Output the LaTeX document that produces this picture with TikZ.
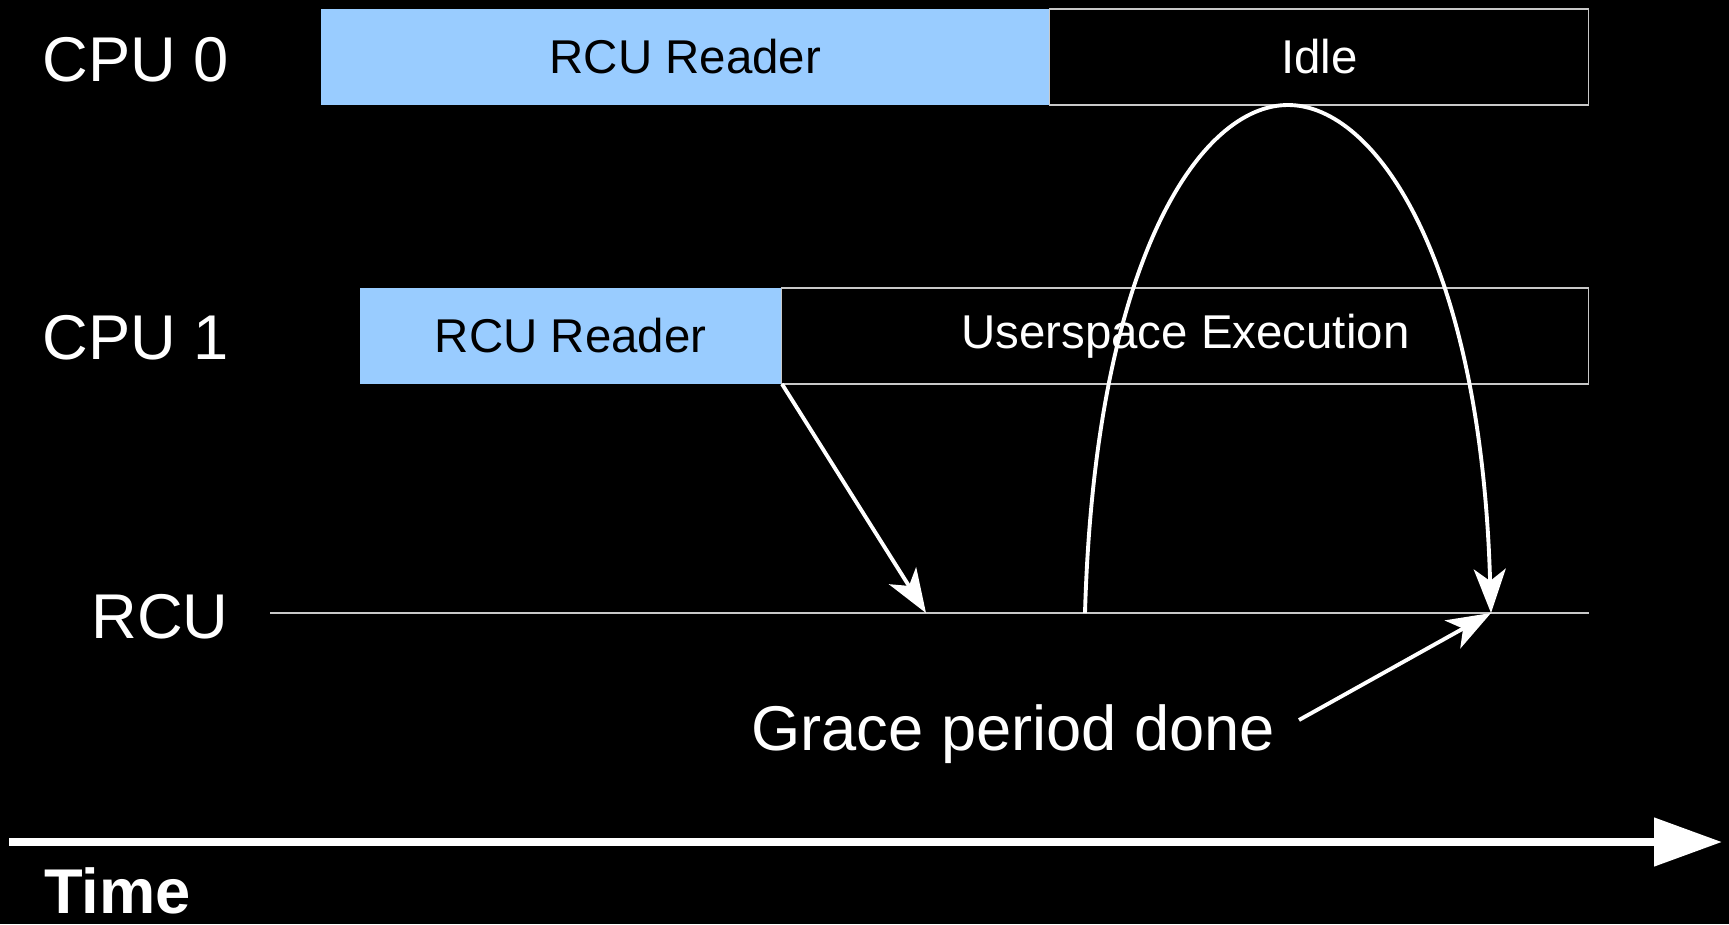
\documentclass[tikz,border=0pt]{standalone}
\usepackage{fontspec}
\setmainfont{Liberation Sans}
\usetikzlibrary{arrows.meta}
\usetikzlibrary{positioning}
\definecolor{rcublue}{HTML}{99CCFF}
\definecolor{boxgray}{HTML}{C8C8C8}

\begin{document}
\begin{tikzpicture}[x=0.02cm,y=-0.02cm,
  cpulabel/.style={text=white,anchor=east,inner sep=0pt,font=\fontsize{36}{40}\selectfont},
  readerbox/.style={fill=rcublue,minimum height=1.92cm,inner sep=0pt,outer sep=0pt,font=\fontsize{27}{30}\selectfont},
  statebox/.style={draw=boxgray,line width=0.6pt,minimum height=1.92cm,inner sep=0pt,outer sep=0pt,text=white,font=\fontsize{27}{30}\selectfont},
  conn/.style={white,line width=2.2pt,-{Stealth[length=0.88cm,width=0.64cm,inset=0.24cm]}}]
\fill[black] (0,0) rectangle (1729,924);
\node[cpulabel] (cpu0) at (229,60) {CPU 0};
\node[cpulabel] (cpu1) at (229,338) {CPU 1};
\node[cpulabel] (rcu) at (229,617) {RCU};
\node[readerbox,minimum width=14.58cm] (rdr0) at (685.5,57) {RCU Reader};
\node[statebox,minimum width=10.78cm,right=0pt of rdr0] (idle) {Idle};
\node[readerbox,minimum width=8.45cm] (rdr1) at (570.75,336) {RCU Reader};
\node[statebox,minimum width=16.14cm,right=0pt of rdr1] (user) {Userspace Execution};
\coordinate (rcustart) at (270,613);
\coordinate (rcuend) at (1589,613);
\coordinate (rdrdone) at (926,613);
\coordinate (archstart) at (1085,613);
\coordinate (gpdone) at (1491,613);
\draw[boxgray,line width=0.6pt] (rcustart) -- (rcuend);
\draw[conn] (rdr1.south east) -- (rdrdone);
\draw[conn] (archstart) .. controls (1095,260) and (1200,105) .. (1288,105)
  .. controls (1376,105) and (1481,260) .. (gpdone);
\node[text=white,anchor=base west,inner sep=0pt,font=\fontsize{36}{40}\selectfont] (grace) at (751,750) {Grace period done};
\coordinate (gracetail) at (1299,720);
\draw[conn] (gracetail) -- (gpdone);
\coordinate (tstart) at (9,842);
\coordinate (tend) at (1722,842);
\draw[white,line width=0.16cm,-{Triangle[length=1.36cm,width=0.94cm]}] (tstart) -- (tend);
\node[text=white,anchor=base west,inner sep=0pt,font=\fontsize{36}{40}\selectfont\bfseries] (time) at (44,913) {Time};
\end{tikzpicture}
\end{document}
